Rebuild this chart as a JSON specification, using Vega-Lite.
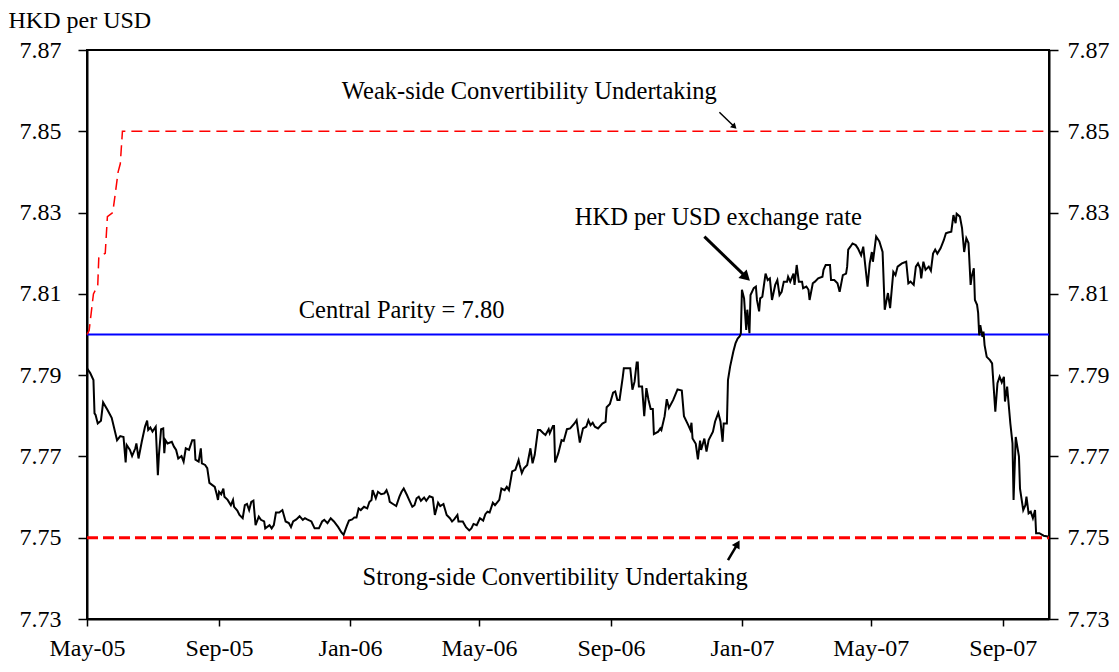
{
  "$schema": "https://vega.github.io/schema/vega-lite/v6.json",
  "width": 962,
  "height": 569,
  "autosize": {"type": "none"},
  "padding": {"left": 87, "top": 50, "right": 70, "bottom": 53},
  "background": "white",
  "config": {
    "view": {"stroke": "black", "strokeWidth": 2},
    "font": "Liberation Serif",
    "axis": {
      "grid": false,
      "domainColor": "black",
      "domainWidth": 2,
      "tickColor": "black",
      "tickWidth": 1.5,
      "labelColor": "black",
      "labelFont": "Liberation Serif",
      "labelFontSize": 24,
      "titleFont": "Liberation Serif",
      "titleFontSize": 24,
      "titleFontWeight": "normal",
      "titleColor": "black"
    }
  },
  "datasets": {
    "strong": [
      {"date": "2005-05-01", "v": 7.75},
      {"date": "2007-10-14", "v": 7.75}
    ],
    "parity": [
      {"date": "2005-05-01", "v": 7.80},
      {"date": "2007-10-14", "v": 7.80}
    ],
    "weak": [
      {"date": "2005-05-01", "v": 7.800},
      {"date": "2005-05-03", "v": 7.801},
      {"date": "2005-05-07", "v": 7.810},
      {"date": "2005-05-11", "v": 7.812},
      {"date": "2005-05-12", "v": 7.819},
      {"date": "2005-05-18", "v": 7.820},
      {"date": "2005-05-20", "v": 7.829},
      {"date": "2005-05-25", "v": 7.830},
      {"date": "2005-05-30", "v": 7.840},
      {"date": "2005-06-01", "v": 7.842},
      {"date": "2005-06-03", "v": 7.850},
      {"date": "2007-10-14", "v": 7.850}
    ],
    "rate": [
      {"date": "2005-05-01", "v": 7.7917},
      {"date": "2005-05-04", "v": 7.7905},
      {"date": "2005-05-07", "v": 7.7888},
      {"date": "2005-05-08", "v": 7.7806},
      {"date": "2005-05-09", "v": 7.7802},
      {"date": "2005-05-11", "v": 7.7781},
      {"date": "2005-05-14", "v": 7.7788},
      {"date": "2005-05-16", "v": 7.7833},
      {"date": "2005-05-20", "v": 7.7815},
      {"date": "2005-05-24", "v": 7.7795},
      {"date": "2005-05-29", "v": 7.7740},
      {"date": "2005-06-01", "v": 7.7750},
      {"date": "2005-06-04", "v": 7.7748},
      {"date": "2005-06-06", "v": 7.7685},
      {"date": "2005-06-07", "v": 7.7728},
      {"date": "2005-06-10", "v": 7.7716},
      {"date": "2005-06-12", "v": 7.7701},
      {"date": "2005-06-15", "v": 7.7720},
      {"date": "2005-06-16", "v": 7.7732},
      {"date": "2005-06-18", "v": 7.7695},
      {"date": "2005-06-21", "v": 7.7736},
      {"date": "2005-06-24", "v": 7.7773},
      {"date": "2005-06-26", "v": 7.7788},
      {"date": "2005-06-27", "v": 7.7765},
      {"date": "2005-06-29", "v": 7.7771},
      {"date": "2005-07-01", "v": 7.7761},
      {"date": "2005-07-04", "v": 7.7773},
      {"date": "2005-07-06", "v": 7.7654},
      {"date": "2005-07-07", "v": 7.7704},
      {"date": "2005-07-09", "v": 7.7767},
      {"date": "2005-07-11", "v": 7.7769},
      {"date": "2005-07-12", "v": 7.7708},
      {"date": "2005-07-13", "v": 7.7740},
      {"date": "2005-07-15", "v": 7.7732},
      {"date": "2005-07-19", "v": 7.7736},
      {"date": "2005-07-21", "v": 7.7724},
      {"date": "2005-07-23", "v": 7.7716},
      {"date": "2005-07-25", "v": 7.7695},
      {"date": "2005-07-28", "v": 7.7701},
      {"date": "2005-07-30", "v": 7.7687},
      {"date": "2005-08-01", "v": 7.7720},
      {"date": "2005-08-04", "v": 7.7716},
      {"date": "2005-08-07", "v": 7.7740},
      {"date": "2005-08-09", "v": 7.7740},
      {"date": "2005-08-10", "v": 7.7692},
      {"date": "2005-08-13", "v": 7.7687},
      {"date": "2005-08-15", "v": 7.7720},
      {"date": "2005-08-16", "v": 7.7683},
      {"date": "2005-08-19", "v": 7.7679},
      {"date": "2005-08-21", "v": 7.7671},
      {"date": "2005-08-23", "v": 7.7635},
      {"date": "2005-08-28", "v": 7.7625},
      {"date": "2005-08-30", "v": 7.7605},
      {"date": "2005-08-31", "v": 7.7593},
      {"date": "2005-09-01", "v": 7.7613},
      {"date": "2005-09-03", "v": 7.7607},
      {"date": "2005-09-05", "v": 7.7621},
      {"date": "2005-09-06", "v": 7.7601},
      {"date": "2005-09-09", "v": 7.7593},
      {"date": "2005-09-12", "v": 7.7580},
      {"date": "2005-09-14", "v": 7.7593},
      {"date": "2005-09-15", "v": 7.7576},
      {"date": "2005-09-18", "v": 7.7567},
      {"date": "2005-09-20", "v": 7.7556},
      {"date": "2005-09-23", "v": 7.7548},
      {"date": "2005-09-25", "v": 7.7580},
      {"date": "2005-09-27", "v": 7.7583},
      {"date": "2005-09-29", "v": 7.7568},
      {"date": "2005-10-01", "v": 7.7588},
      {"date": "2005-10-03", "v": 7.7591},
      {"date": "2005-10-05", "v": 7.7531},
      {"date": "2005-10-08", "v": 7.7552},
      {"date": "2005-10-10", "v": 7.7544},
      {"date": "2005-10-13", "v": 7.7540},
      {"date": "2005-10-14", "v": 7.7523},
      {"date": "2005-10-18", "v": 7.7531},
      {"date": "2005-10-20", "v": 7.7523},
      {"date": "2005-10-22", "v": 7.7531},
      {"date": "2005-10-24", "v": 7.7562},
      {"date": "2005-10-27", "v": 7.7562},
      {"date": "2005-10-30", "v": 7.7568},
      {"date": "2005-11-02", "v": 7.7540},
      {"date": "2005-11-05", "v": 7.7536},
      {"date": "2005-11-07", "v": 7.7526},
      {"date": "2005-11-09", "v": 7.7540},
      {"date": "2005-11-12", "v": 7.7545},
      {"date": "2005-11-15", "v": 7.7553},
      {"date": "2005-11-18", "v": 7.7544},
      {"date": "2005-11-20", "v": 7.7548},
      {"date": "2005-11-22", "v": 7.7545},
      {"date": "2005-11-26", "v": 7.7540},
      {"date": "2005-11-29", "v": 7.7523},
      {"date": "2005-12-03", "v": 7.7523},
      {"date": "2005-12-06", "v": 7.7540},
      {"date": "2005-12-08", "v": 7.7544},
      {"date": "2005-12-11", "v": 7.7536},
      {"date": "2005-12-14", "v": 7.7548},
      {"date": "2005-12-17", "v": 7.7540},
      {"date": "2005-12-21", "v": 7.7526},
      {"date": "2005-12-24", "v": 7.7513},
      {"date": "2005-12-26", "v": 7.7507},
      {"date": "2005-12-29", "v": 7.7529},
      {"date": "2005-12-31", "v": 7.7542},
      {"date": "2006-01-03", "v": 7.7545},
      {"date": "2006-01-05", "v": 7.7550},
      {"date": "2006-01-07", "v": 7.7550},
      {"date": "2006-01-09", "v": 7.7572},
      {"date": "2006-01-11", "v": 7.7568},
      {"date": "2006-01-14", "v": 7.7576},
      {"date": "2006-01-17", "v": 7.7572},
      {"date": "2006-01-19", "v": 7.7588},
      {"date": "2006-01-21", "v": 7.7593},
      {"date": "2006-01-22", "v": 7.7617},
      {"date": "2006-01-25", "v": 7.7597},
      {"date": "2006-01-27", "v": 7.7613},
      {"date": "2006-01-30", "v": 7.7607},
      {"date": "2006-02-02", "v": 7.7609},
      {"date": "2006-02-04", "v": 7.7617},
      {"date": "2006-02-06", "v": 7.7602},
      {"date": "2006-02-07", "v": 7.7588},
      {"date": "2006-02-10", "v": 7.7583},
      {"date": "2006-02-13", "v": 7.7578},
      {"date": "2006-02-16", "v": 7.7601},
      {"date": "2006-02-18", "v": 7.7613},
      {"date": "2006-02-20", "v": 7.7621},
      {"date": "2006-02-23", "v": 7.7605},
      {"date": "2006-02-25", "v": 7.7593},
      {"date": "2006-02-28", "v": 7.7576},
      {"date": "2006-03-02", "v": 7.7580},
      {"date": "2006-03-04", "v": 7.7597},
      {"date": "2006-03-06", "v": 7.7601},
      {"date": "2006-03-08", "v": 7.7591},
      {"date": "2006-03-11", "v": 7.7599},
      {"date": "2006-03-13", "v": 7.7591},
      {"date": "2006-03-16", "v": 7.7602},
      {"date": "2006-03-19", "v": 7.7599},
      {"date": "2006-03-21", "v": 7.7556},
      {"date": "2006-03-24", "v": 7.7586},
      {"date": "2006-03-26", "v": 7.7578},
      {"date": "2006-03-29", "v": 7.7583},
      {"date": "2006-04-01", "v": 7.7556},
      {"date": "2006-04-04", "v": 7.7548},
      {"date": "2006-04-06", "v": 7.7540},
      {"date": "2006-04-08", "v": 7.7545},
      {"date": "2006-04-11", "v": 7.7556},
      {"date": "2006-04-12", "v": 7.7540},
      {"date": "2006-04-16", "v": 7.7540},
      {"date": "2006-04-19", "v": 7.7526},
      {"date": "2006-04-22", "v": 7.7518},
      {"date": "2006-04-24", "v": 7.7523},
      {"date": "2006-04-26", "v": 7.7534},
      {"date": "2006-04-29", "v": 7.7531},
      {"date": "2006-05-02", "v": 7.7548},
      {"date": "2006-05-05", "v": 7.7542},
      {"date": "2006-05-07", "v": 7.7558},
      {"date": "2006-05-09", "v": 7.7564},
      {"date": "2006-05-11", "v": 7.7562},
      {"date": "2006-05-14", "v": 7.7586},
      {"date": "2006-05-16", "v": 7.7580},
      {"date": "2006-05-20", "v": 7.7593},
      {"date": "2006-05-22", "v": 7.7621},
      {"date": "2006-05-25", "v": 7.7617},
      {"date": "2006-05-27", "v": 7.7625},
      {"date": "2006-05-29", "v": 7.7617},
      {"date": "2006-06-01", "v": 7.7663},
      {"date": "2006-06-04", "v": 7.7667},
      {"date": "2006-06-07", "v": 7.7691},
      {"date": "2006-06-08", "v": 7.7679},
      {"date": "2006-06-10", "v": 7.7659},
      {"date": "2006-06-12", "v": 7.7671},
      {"date": "2006-06-15", "v": 7.7679},
      {"date": "2006-06-18", "v": 7.7720},
      {"date": "2006-06-20", "v": 7.7683},
      {"date": "2006-06-22", "v": 7.7704},
      {"date": "2006-06-25", "v": 7.7765},
      {"date": "2006-06-27", "v": 7.7765},
      {"date": "2006-06-30", "v": 7.7757},
      {"date": "2006-07-02", "v": 7.7753},
      {"date": "2006-07-05", "v": 7.7767},
      {"date": "2006-07-06", "v": 7.7757},
      {"date": "2006-07-09", "v": 7.7775},
      {"date": "2006-07-10", "v": 7.7775},
      {"date": "2006-07-11", "v": 7.7685},
      {"date": "2006-07-14", "v": 7.7708},
      {"date": "2006-07-17", "v": 7.7740},
      {"date": "2006-07-19", "v": 7.7738},
      {"date": "2006-07-22", "v": 7.7767},
      {"date": "2006-07-25", "v": 7.7769},
      {"date": "2006-07-29", "v": 7.7781},
      {"date": "2006-07-31", "v": 7.7789},
      {"date": "2006-08-03", "v": 7.7734},
      {"date": "2006-08-06", "v": 7.7769},
      {"date": "2006-08-09", "v": 7.7773},
      {"date": "2006-08-11", "v": 7.7789},
      {"date": "2006-08-13", "v": 7.7777},
      {"date": "2006-08-15", "v": 7.7783},
      {"date": "2006-08-17", "v": 7.7773},
      {"date": "2006-08-20", "v": 7.7769},
      {"date": "2006-08-24", "v": 7.7781},
      {"date": "2006-08-27", "v": 7.7785},
      {"date": "2006-08-28", "v": 7.7821},
      {"date": "2006-08-31", "v": 7.7829},
      {"date": "2006-09-03", "v": 7.7857},
      {"date": "2006-09-05", "v": 7.7860},
      {"date": "2006-09-07", "v": 7.7839},
      {"date": "2006-09-09", "v": 7.7839},
      {"date": "2006-09-12", "v": 7.7895},
      {"date": "2006-09-13", "v": 7.7917},
      {"date": "2006-09-17", "v": 7.7917},
      {"date": "2006-09-19", "v": 7.7917},
      {"date": "2006-09-21", "v": 7.7864},
      {"date": "2006-09-23", "v": 7.7884},
      {"date": "2006-09-25", "v": 7.7931},
      {"date": "2006-09-26", "v": 7.7931},
      {"date": "2006-09-27", "v": 7.7872},
      {"date": "2006-09-30", "v": 7.7872},
      {"date": "2006-10-02", "v": 7.7799},
      {"date": "2006-10-04", "v": 7.7868},
      {"date": "2006-10-06", "v": 7.7839},
      {"date": "2006-10-08", "v": 7.7817},
      {"date": "2006-10-10", "v": 7.7817},
      {"date": "2006-10-11", "v": 7.7755},
      {"date": "2006-10-15", "v": 7.7761},
      {"date": "2006-10-17", "v": 7.7769},
      {"date": "2006-10-18", "v": 7.7765},
      {"date": "2006-10-21", "v": 7.7799},
      {"date": "2006-10-23", "v": 7.7841},
      {"date": "2006-10-25", "v": 7.7819},
      {"date": "2006-10-29", "v": 7.7839},
      {"date": "2006-11-02", "v": 7.7865},
      {"date": "2006-11-06", "v": 7.7862},
      {"date": "2006-11-08", "v": 7.7799},
      {"date": "2006-11-12", "v": 7.7777},
      {"date": "2006-11-14", "v": 7.7765},
      {"date": "2006-11-15", "v": 7.7783},
      {"date": "2006-11-16", "v": 7.7744},
      {"date": "2006-11-19", "v": 7.7731},
      {"date": "2006-11-21", "v": 7.7693},
      {"date": "2006-11-23", "v": 7.7739},
      {"date": "2006-11-24", "v": 7.7716},
      {"date": "2006-11-27", "v": 7.7744},
      {"date": "2006-11-29", "v": 7.7712},
      {"date": "2006-12-01", "v": 7.7740},
      {"date": "2006-12-05", "v": 7.7761},
      {"date": "2006-12-07", "v": 7.7786},
      {"date": "2006-12-10", "v": 7.7807},
      {"date": "2006-12-12", "v": 7.7786},
      {"date": "2006-12-14", "v": 7.7736},
      {"date": "2006-12-15", "v": 7.7781},
      {"date": "2006-12-18", "v": 7.7781},
      {"date": "2006-12-19", "v": 7.7888},
      {"date": "2006-12-21", "v": 7.7921},
      {"date": "2006-12-24", "v": 7.7958},
      {"date": "2006-12-26", "v": 7.7978},
      {"date": "2006-12-28", "v": 7.7990},
      {"date": "2006-12-30", "v": 7.7996},
      {"date": "2006-12-31", "v": 7.8003},
      {"date": "2007-01-01", "v": 7.8110},
      {"date": "2007-01-03", "v": 7.8089},
      {"date": "2007-01-05", "v": 7.8011},
      {"date": "2007-01-06", "v": 7.8061},
      {"date": "2007-01-08", "v": 7.8003},
      {"date": "2007-01-09", "v": 7.8097},
      {"date": "2007-01-12", "v": 7.8114},
      {"date": "2007-01-14", "v": 7.8118},
      {"date": "2007-01-15", "v": 7.8085},
      {"date": "2007-01-17", "v": 7.8057},
      {"date": "2007-01-18", "v": 7.8089},
      {"date": "2007-01-20", "v": 7.8093},
      {"date": "2007-01-23", "v": 7.8150},
      {"date": "2007-01-25", "v": 7.8134},
      {"date": "2007-01-27", "v": 7.8138},
      {"date": "2007-01-29", "v": 7.8085},
      {"date": "2007-02-01", "v": 7.8122},
      {"date": "2007-02-03", "v": 7.8134},
      {"date": "2007-02-05", "v": 7.8097},
      {"date": "2007-02-07", "v": 7.8105},
      {"date": "2007-02-09", "v": 7.8130},
      {"date": "2007-02-12", "v": 7.8130},
      {"date": "2007-02-13", "v": 7.8142},
      {"date": "2007-02-15", "v": 7.8130},
      {"date": "2007-02-18", "v": 7.8150},
      {"date": "2007-02-19", "v": 7.8122},
      {"date": "2007-02-21", "v": 7.8171},
      {"date": "2007-02-23", "v": 7.8130},
      {"date": "2007-02-26", "v": 7.8130},
      {"date": "2007-02-27", "v": 7.8114},
      {"date": "2007-03-02", "v": 7.8118},
      {"date": "2007-03-04", "v": 7.8110},
      {"date": "2007-03-05", "v": 7.8085},
      {"date": "2007-03-08", "v": 7.8126},
      {"date": "2007-03-10", "v": 7.8130},
      {"date": "2007-03-13", "v": 7.8138},
      {"date": "2007-03-17", "v": 7.8142},
      {"date": "2007-03-18", "v": 7.8159},
      {"date": "2007-03-20", "v": 7.8171},
      {"date": "2007-03-24", "v": 7.8171},
      {"date": "2007-03-25", "v": 7.8134},
      {"date": "2007-03-28", "v": 7.8134},
      {"date": "2007-03-31", "v": 7.8126},
      {"date": "2007-04-02", "v": 7.8105},
      {"date": "2007-04-05", "v": 7.8146},
      {"date": "2007-04-08", "v": 7.8150},
      {"date": "2007-04-09", "v": 7.8167},
      {"date": "2007-04-10", "v": 7.8209},
      {"date": "2007-04-12", "v": 7.8216},
      {"date": "2007-04-14", "v": 7.8224},
      {"date": "2007-04-17", "v": 7.8220},
      {"date": "2007-04-19", "v": 7.8212},
      {"date": "2007-04-22", "v": 7.8195},
      {"date": "2007-04-24", "v": 7.8216},
      {"date": "2007-04-25", "v": 7.8191},
      {"date": "2007-04-28", "v": 7.8118},
      {"date": "2007-04-30", "v": 7.8175},
      {"date": "2007-05-02", "v": 7.8203},
      {"date": "2007-05-03", "v": 7.8179},
      {"date": "2007-05-06", "v": 7.8241},
      {"date": "2007-05-09", "v": 7.8229},
      {"date": "2007-05-12", "v": 7.8203},
      {"date": "2007-05-14", "v": 7.8061},
      {"date": "2007-05-17", "v": 7.8102},
      {"date": "2007-05-19", "v": 7.8065},
      {"date": "2007-05-22", "v": 7.8154},
      {"date": "2007-05-24", "v": 7.8146},
      {"date": "2007-05-26", "v": 7.8167},
      {"date": "2007-05-30", "v": 7.8175},
      {"date": "2007-06-03", "v": 7.8179},
      {"date": "2007-06-05", "v": 7.8126},
      {"date": "2007-06-07", "v": 7.8130},
      {"date": "2007-06-10", "v": 7.8122},
      {"date": "2007-06-12", "v": 7.8167},
      {"date": "2007-06-14", "v": 7.8175},
      {"date": "2007-06-16", "v": 7.8163},
      {"date": "2007-06-17", "v": 7.8138},
      {"date": "2007-06-19", "v": 7.8179},
      {"date": "2007-06-21", "v": 7.8159},
      {"date": "2007-06-24", "v": 7.8167},
      {"date": "2007-06-26", "v": 7.8157},
      {"date": "2007-06-28", "v": 7.8199},
      {"date": "2007-06-30", "v": 7.8209},
      {"date": "2007-07-02", "v": 7.8199},
      {"date": "2007-07-05", "v": 7.8212},
      {"date": "2007-07-08", "v": 7.8232},
      {"date": "2007-07-10", "v": 7.8249},
      {"date": "2007-07-12", "v": 7.8251},
      {"date": "2007-07-15", "v": 7.8253},
      {"date": "2007-07-17", "v": 7.8294},
      {"date": "2007-07-19", "v": 7.8274},
      {"date": "2007-07-20", "v": 7.8297},
      {"date": "2007-07-23", "v": 7.8290},
      {"date": "2007-07-25", "v": 7.8262},
      {"date": "2007-07-27", "v": 7.8203},
      {"date": "2007-07-29", "v": 7.8237},
      {"date": "2007-07-31", "v": 7.8225},
      {"date": "2007-08-02", "v": 7.8122},
      {"date": "2007-08-03", "v": 7.8142},
      {"date": "2007-08-05", "v": 7.8163},
      {"date": "2007-08-06", "v": 7.8085},
      {"date": "2007-08-08", "v": 7.8073},
      {"date": "2007-08-09", "v": 7.8053},
      {"date": "2007-08-10", "v": 7.7998},
      {"date": "2007-08-11", "v": 7.8023},
      {"date": "2007-08-13", "v": 7.7994},
      {"date": "2007-08-14", "v": 7.8007},
      {"date": "2007-08-15", "v": 7.7974},
      {"date": "2007-08-17", "v": 7.7945},
      {"date": "2007-08-20", "v": 7.7937},
      {"date": "2007-08-22", "v": 7.7929},
      {"date": "2007-08-25", "v": 7.7810},
      {"date": "2007-08-27", "v": 7.7880},
      {"date": "2007-08-29", "v": 7.7896},
      {"date": "2007-08-31", "v": 7.7882},
      {"date": "2007-09-02", "v": 7.7896},
      {"date": "2007-09-03", "v": 7.7835},
      {"date": "2007-09-05", "v": 7.7872},
      {"date": "2007-09-08", "v": 7.7781},
      {"date": "2007-09-10", "v": 7.7732},
      {"date": "2007-09-11", "v": 7.7593},
      {"date": "2007-09-13", "v": 7.7748},
      {"date": "2007-09-16", "v": 7.7700},
      {"date": "2007-09-17", "v": 7.7621},
      {"date": "2007-09-20", "v": 7.7568},
      {"date": "2007-09-22", "v": 7.7580},
      {"date": "2007-09-23", "v": 7.7601},
      {"date": "2007-09-25", "v": 7.7560},
      {"date": "2007-09-27", "v": 7.7564},
      {"date": "2007-09-29", "v": 7.7548},
      {"date": "2007-10-01", "v": 7.7568},
      {"date": "2007-10-02", "v": 7.7511},
      {"date": "2007-10-05", "v": 7.7511},
      {"date": "2007-10-09", "v": 7.7505},
      {"date": "2007-10-13", "v": 7.7503}
    ],
    "labels": [
      {"date": "2006-06-17", "v": 7.8579, "label": "Weak-side Convertibility Undertaking"},
      {"date": "2006-12-10", "v": 7.8269, "label": "HKD per USD exchange rate"},
      {"date": "2006-02-18", "v": 7.8041, "label": "Central Parity = 7.80"},
      {"date": "2006-07-11", "v": 7.7384, "label": "Strong-side Convertibility Undertaking"}
    ],
    "arrows": [
      {"name": "weak", "date": "2006-12-11", "v": 7.8547, "date2": "2006-12-25", "v2": 7.8511},
      {"name": "rate", "date": "2006-11-27", "v": 7.8241, "date2": "2007-01-05", "v2": 7.8141},
      {"name": "strong", "date": "2006-12-19", "v": 7.7445, "date2": "2006-12-28", "v2": 7.7485}
    ]
  },
  "resolve": {"axis": {"y": "independent"}},
  "layer": [
    {
      "data": {"name": "strong"},
      "mark": {"type": "line", "color": "#ff0000", "strokeWidth": 3, "strokeDash": [11, 5]},
      "encoding": {
        "x": {
          "field": "date", "type": "temporal",
          "scale": {"type": "utc", "domain": [{"year": 2005, "month": 5, "date": 1, "utc": true}, {"year": 2007, "month": 10, "date": 14, "utc": true}]},
          "axis": {
            "values": [
              {"year": 2005, "month": 5, "date": 1, "utc": true},
              {"year": 2005, "month": 9, "date": 1, "utc": true},
              {"year": 2006, "month": 1, "date": 1, "utc": true},
              {"year": 2006, "month": 5, "date": 1, "utc": true},
              {"year": 2006, "month": 9, "date": 1, "utc": true},
              {"year": 2007, "month": 1, "date": 1, "utc": true},
              {"year": 2007, "month": 5, "date": 1, "utc": true},
              {"year": 2007, "month": 9, "date": 1, "utc": true}
            ],
            "format": "%b-%y",
            "title": null,
            "tickSize": 7,
            "labelPadding": 10,
            "labelFlush": false,
            "labelOverlap": false
          }
        },
        "y": {
          "field": "v", "type": "quantitative",
          "scale": {"domain": [7.73, 7.87], "nice": false, "zero": false},
          "axis": {
            "orient": "left",
            "values": [7.73, 7.75, 7.77, 7.79, 7.81, 7.83, 7.85, 7.87],
            "format": ".2f",
            "tickSize": 9,
            "labelPadding": 17,
            "title": "HKD per USD",
            "titleAngle": 0,
            "titleAlign": "left",
            "titleBaseline": "alphabetic",
            "titleX": -79,
            "titleY": -23
          }
        }
      }
    },
    {
      "data": {"name": "parity"},
      "mark": {"type": "line", "color": "#0000ff", "strokeWidth": 2},
      "encoding": {
        "x": {"field": "date", "type": "temporal"},
        "y": {
          "field": "v", "type": "quantitative",
          "axis": {
            "orient": "right",
            "values": [7.73, 7.75, 7.77, 7.79, 7.81, 7.83, 7.85, 7.87],
            "format": ".2f",
            "tickSize": 9,
            "labelPadding": 9,
            "title": null
          }
        }
      }
    },
    {
      "data": {"name": "weak"},
      "mark": {"type": "line", "color": "#ff0000", "strokeWidth": 1.5, "strokeDash": [11, 6]},
      "encoding": {
        "x": {"field": "date", "type": "temporal"},
        "y": {"field": "v", "type": "quantitative", "axis": null}
      }
    },
    {
      "data": {"name": "rate"},
      "mark": {"type": "line", "color": "black", "strokeWidth": 2},
      "encoding": {
        "x": {"field": "date", "type": "temporal"},
        "y": {"field": "v", "type": "quantitative", "axis": null}
      }
    },
    {
      "data": {"name": "labels"},
      "mark": {"type": "text", "font": "Liberation Serif", "fontSize": 24.5, "color": "black", "align": "center", "baseline": "alphabetic"},
      "encoding": {
        "x": {"field": "date", "type": "temporal"},
        "y": {"field": "v", "type": "quantitative", "axis": null},
        "text": {"field": "label", "type": "nominal"}
      }
    },
    {
      "data": {"name": "arrows"},
      "transform": [{"filter": "datum.name === 'weak'"}],
      "mark": {"type": "rule", "color": "black", "strokeWidth": 1.5},
      "encoding": {
        "x": {"field": "date", "type": "temporal"},
        "y": {"field": "v", "type": "quantitative", "axis": null},
        "x2": {"field": "date2"},
        "y2": {"field": "v2"}
      }
    },
    {
      "data": {"name": "arrows"},
      "transform": [{"filter": "datum.name === 'weak'"}],
      "mark": {"type": "point", "shape": "triangle-up", "filled": true, "color": "black", "opacity": 1, "size": 45, "angle": 135},
      "encoding": {
        "x": {"field": "date2", "type": "temporal"},
        "y": {"field": "v2", "type": "quantitative", "axis": null}
      }
    },
    {
      "data": {"name": "arrows"},
      "transform": [{"filter": "datum.name === 'rate'"}],
      "mark": {"type": "rule", "color": "black", "strokeWidth": 3},
      "encoding": {
        "x": {"field": "date", "type": "temporal"},
        "y": {"field": "v", "type": "quantitative", "axis": null},
        "x2": {"field": "date2"},
        "y2": {"field": "v2"}
      }
    },
    {
      "data": {"name": "arrows"},
      "transform": [{"filter": "datum.name === 'rate'"}],
      "mark": {"type": "point", "shape": "triangle-up", "filled": true, "color": "black", "opacity": 1, "size": 140, "angle": 134},
      "encoding": {
        "x": {"field": "date2", "type": "temporal"},
        "y": {"field": "v2", "type": "quantitative", "axis": null}
      }
    },
    {
      "data": {"name": "arrows"},
      "transform": [{"filter": "datum.name === 'strong'"}],
      "mark": {"type": "rule", "color": "black", "strokeWidth": 2.5},
      "encoding": {
        "x": {"field": "date", "type": "temporal"},
        "y": {"field": "v", "type": "quantitative", "axis": null},
        "x2": {"field": "date2"},
        "y2": {"field": "v2"}
      }
    },
    {
      "data": {"name": "arrows"},
      "transform": [{"filter": "datum.name === 'strong'"}],
      "mark": {"type": "point", "shape": "triangle-up", "filled": true, "color": "black", "opacity": 1, "size": 80, "angle": 30},
      "encoding": {
        "x": {"field": "date2", "type": "temporal"},
        "y": {"field": "v2", "type": "quantitative", "axis": null}
      }
    }
  ]
}
